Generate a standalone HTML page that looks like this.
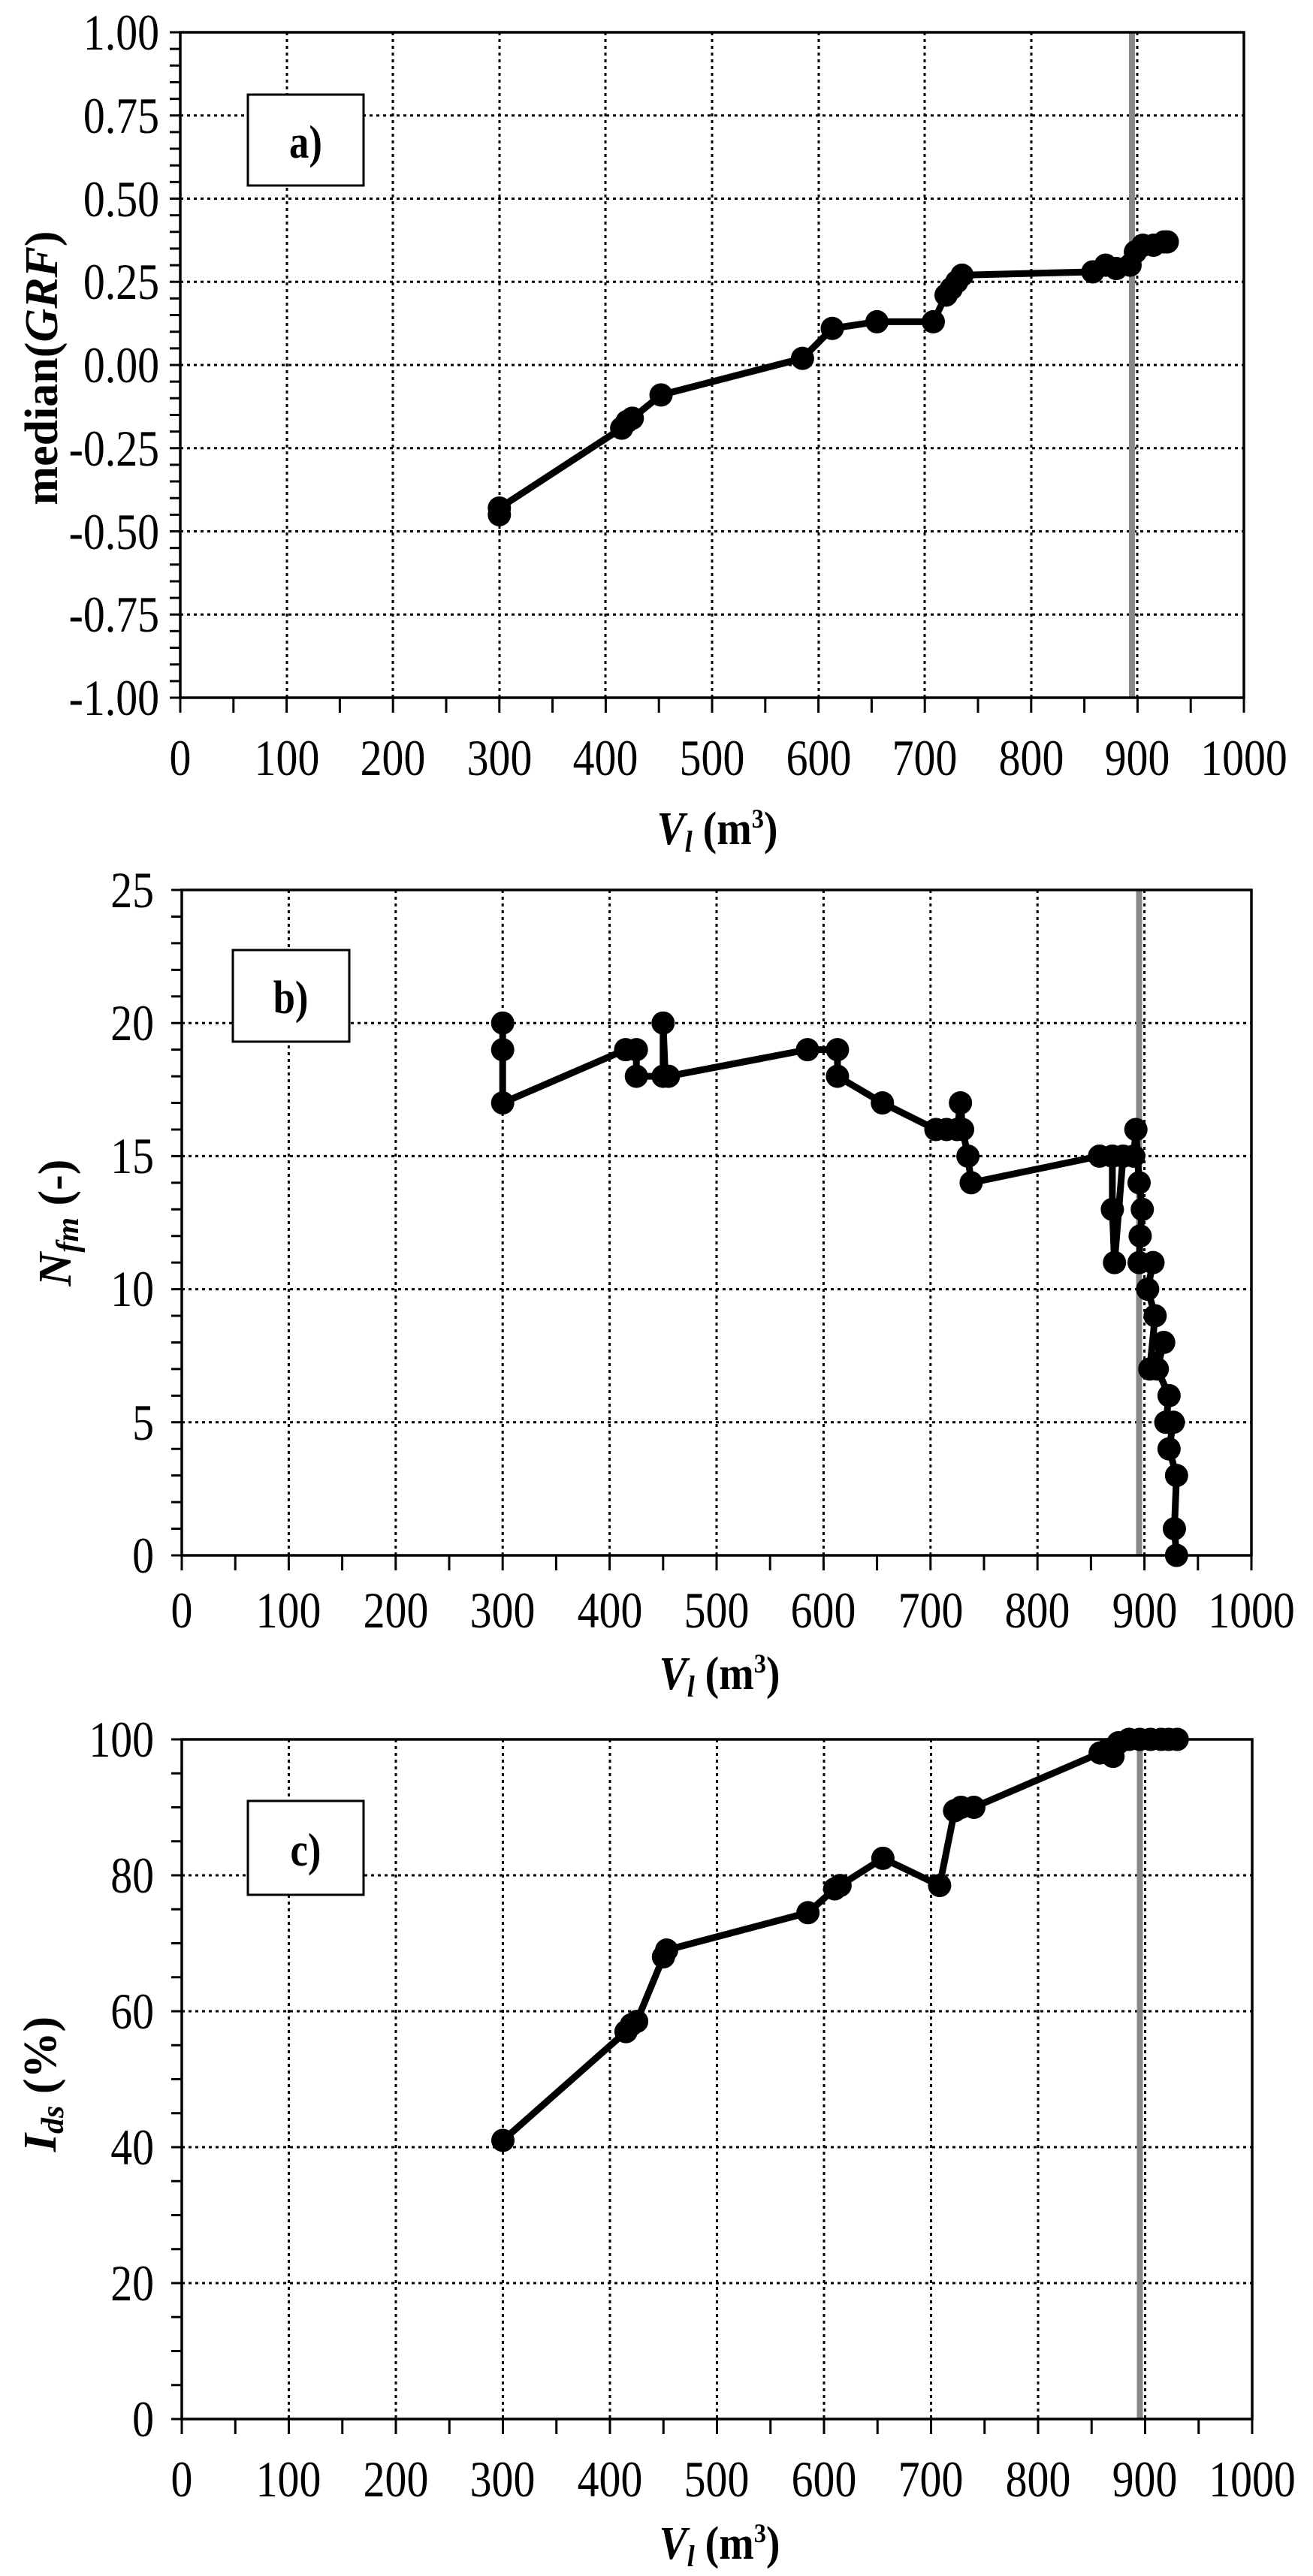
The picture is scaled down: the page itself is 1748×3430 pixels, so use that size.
<!DOCTYPE html>
<html><head><meta charset="utf-8"><style>
html,body{margin:0;padding:0;background:#fff;}
svg{display:block;}
text{font-family:"Liberation Serif",serif;fill:#000;}
.t{font-size:68px;}
.ti{font-size:62px;font-weight:bold;}
</style></head><body>
<svg width="1748" height="3430" viewBox="0 0 1748 3430" xmlns="http://www.w3.org/2000/svg">
<!-- ===== Plot a ===== -->
<g stroke="#000" stroke-width="3" stroke-dasharray="4 5" fill="none">
<path d="M382 43V929M523 43V929M665 43V929M806 43V929M948 43V929M1090 43V929M1231 43V929M1373 43V929M1514 43V929"/>
<path d="M240 153.75H1656M240 264.5H1656M240 375.25H1656M240 486H1656M240 596.75H1656M240 707.5H1656M240 818.25H1656"/>
</g>
<line x1="1507" y1="43" x2="1507" y2="929" stroke="#888" stroke-width="8"/>
<rect x="240" y="43" width="1416" height="886" fill="none" stroke="#000" stroke-width="3.5"/>
<line x1="233" y1="41.5" x2="233" y2="931" stroke="#000" stroke-width="14" stroke-dasharray="3 19.15"/>
<line x1="238.5" y1="939" x2="1660" y2="939" stroke="#000" stroke-width="20" stroke-dasharray="3 67.8"/>
<g transform="matrix(1.416 0 0 -443 240 486)" fill="none" stroke="#000" stroke-linejoin="round">
<path vector-effect="non-scaling-stroke" stroke-width="9" d="M300 -0.45L300 -0.43L415 -0.19L420 -0.17L425 -0.16L452 -0.09L585 0.02L613 0.11L655 0.13L708 0.13L720 0.21L725 0.23L730 0.25L735 0.27L858 0.28L870 0.3L880 0.29L893 0.3L898 0.34L905 0.36L915 0.36L925 0.37L928 0.37"/>
<path vector-effect="non-scaling-stroke" stroke-width="31" stroke-linecap="round" d="M300 -0.45l0 0M300 -0.43l0 0M415 -0.19l0 0M420 -0.17l0 0M425 -0.16l0 0M452 -0.09l0 0M585 0.02l0 0M613 0.11l0 0M655 0.13l0 0M708 0.13l0 0M720 0.21l0 0M725 0.23l0 0M730 0.25l0 0M735 0.27l0 0M858 0.28l0 0M870 0.3l0 0M880 0.29l0 0M893 0.3l0 0M898 0.34l0 0M905 0.36l0 0M915 0.36l0 0M925 0.37l0 0M928 0.37l0 0"/>
</g>
<rect x="330" y="126" width="154" height="121" fill="#fff" stroke="#000" stroke-width="3"/>
<text class="ti" transform="translate(407 210) scale(0.85 1)" text-anchor="middle" font-size="66">a)</text>
<g class="t" text-anchor="end">
<text transform="translate(212 66) scale(0.85 1)">1.00</text><text transform="translate(212 177) scale(0.85 1)">0.75</text><text transform="translate(212 288) scale(0.85 1)">0.50</text><text transform="translate(212 398) scale(0.85 1)">0.25</text><text transform="translate(212 509) scale(0.85 1)">0.00</text><text transform="translate(212 620) scale(0.85 1)">-0.25</text><text transform="translate(212 731) scale(0.85 1)">-0.50</text><text transform="translate(212 841) scale(0.85 1)">-0.75</text><text transform="translate(212 952) scale(0.85 1)">-1.00</text>
</g>
<g class="t" text-anchor="middle">
<text transform="translate(240 1032) scale(0.85 1)">0</text><text transform="translate(382 1032) scale(0.85 1)">100</text><text transform="translate(523 1032) scale(0.85 1)">200</text><text transform="translate(665 1032) scale(0.85 1)">300</text><text transform="translate(806 1032) scale(0.85 1)">400</text><text transform="translate(948 1032) scale(0.85 1)">500</text><text transform="translate(1090 1032) scale(0.85 1)">600</text><text transform="translate(1231 1032) scale(0.85 1)">700</text><text transform="translate(1373 1032) scale(0.85 1)">800</text><text transform="translate(1514 1032) scale(0.85 1)">900</text><text transform="translate(1656 1032) scale(0.85 1)">1000</text>
</g>
<text class="ti" transform="translate(955 1124) scale(0.9 1)" text-anchor="middle"><tspan font-style="italic">V</tspan><tspan font-style="italic" font-size="40" dy="10">l</tspan><tspan dy="-10"> (m</tspan><tspan font-size="36" dy="-22">3</tspan><tspan dy="22">)</tspan></text>
<text class="ti" transform="translate(76 490) rotate(-90)" text-anchor="middle" font-size="64">median(<tspan font-style="italic">GRF</tspan>)</text>

<!-- ===== Plot b ===== -->
<g stroke="#000" stroke-width="3" stroke-dasharray="4 5" fill="none">
<path d="M384.4 1185V2071M526.8 1185V2071M669.2 1185V2071M811.6 1185V2071M954 1185V2071M1096.4 1185V2071M1238.8 1185V2071M1381.2 1185V2071M1523.6 1185V2071"/>
<path d="M242 1362.2H1666M242 1539.4H1666M242 1716.6H1666M242 1893.8H1666"/>
</g>
<line x1="1516.5" y1="1185" x2="1516.5" y2="2071" stroke="#888" stroke-width="8"/>
<rect x="242" y="1185" width="1424" height="886" fill="none" stroke="#000" stroke-width="3.5"/>
<line x1="235" y1="1183.5" x2="235" y2="2073" stroke="#000" stroke-width="14" stroke-dasharray="3 32.44"/>
<line x1="240.5" y1="2081" x2="1670" y2="2081" stroke="#000" stroke-width="20" stroke-dasharray="3 68.2"/>
<g transform="matrix(1.424 0 0 -35.44 242 2071)" fill="none" stroke="#000" stroke-linejoin="round">
<path vector-effect="non-scaling-stroke" stroke-width="9" d="M300 20L300 19L300 17L415 19L425 19L425 18L450 18L450 20L452 18L455 18L585 19L613 19L613 18L655 17L705 16L715 16L725 16L728 17L730 16L735 15L738 14L858 15L870 15L870 13L872 11L880 15L890 15L892 16L895 14L898 13L896 12L895 11L908 11L903 10L910 9L905 7L918 8L912 7L923 6L920 5L927 5L923 4L930 3L928 1L930 0"/>
<path vector-effect="non-scaling-stroke" stroke-width="31" stroke-linecap="round" d="M300 20l0 0M300 19l0 0M300 17l0 0M415 19l0 0M425 19l0 0M425 18l0 0M450 18l0 0M450 20l0 0M455 18l0 0M585 19l0 0M613 19l0 0M613 18l0 0M655 17l0 0M705 16l0 0M715 16l0 0M725 16l0 0M728 17l0 0M730 16l0 0M735 15l0 0M738 14l0 0M858 15l0 0M870 15l0 0M870 13l0 0M872 11l0 0M880 15l0 0M890 15l0 0M892 16l0 0M895 14l0 0M898 13l0 0M896 12l0 0M895 11l0 0M908 11l0 0M903 10l0 0M910 9l0 0M905 7l0 0M918 8l0 0M912 7l0 0M923 6l0 0M920 5l0 0M927 5l0 0M923 4l0 0M930 3l0 0M928 1l0 0M930 0l0 0"/>
</g>
<rect x="310" y="1265" width="155" height="122" fill="#fff" stroke="#000" stroke-width="3"/>
<text class="ti" transform="translate(387 1349) scale(0.85 1)" text-anchor="middle" font-size="66">b)</text>
<g class="t" text-anchor="end">
<text transform="translate(205 1208) scale(0.85 1)">25</text><text transform="translate(205 1385) scale(0.85 1)">20</text><text transform="translate(205 1562) scale(0.85 1)">15</text><text transform="translate(205 1739) scale(0.85 1)">10</text><text transform="translate(205 1917) scale(0.85 1)">5</text><text transform="translate(205 2094) scale(0.85 1)">0</text>
</g>
<g class="t" text-anchor="middle">
<text transform="translate(242 2167) scale(0.85 1)">0</text><text transform="translate(384 2167) scale(0.85 1)">100</text><text transform="translate(527 2167) scale(0.85 1)">200</text><text transform="translate(669 2167) scale(0.85 1)">300</text><text transform="translate(812 2167) scale(0.85 1)">400</text><text transform="translate(954 2167) scale(0.85 1)">500</text><text transform="translate(1096 2167) scale(0.85 1)">600</text><text transform="translate(1239 2167) scale(0.85 1)">700</text><text transform="translate(1381 2167) scale(0.85 1)">800</text><text transform="translate(1524 2167) scale(0.85 1)">900</text><text transform="translate(1666 2167) scale(0.85 1)">1000</text>
</g>
<text class="ti" transform="translate(958 2249) scale(0.9 1)" text-anchor="middle"><tspan font-style="italic">V</tspan><tspan font-style="italic" font-size="40" dy="10">l</tspan><tspan dy="-10"> (m</tspan><tspan font-size="36" dy="-22">3</tspan><tspan dy="22">)</tspan></text>
<text class="ti" transform="translate(94 1628) rotate(-90)" text-anchor="middle" font-size="64"><tspan font-style="italic">N</tspan><tspan font-style="italic" font-size="42" dy="10">fm</tspan><tspan dy="-10"> (-)</tspan></text>

<!-- ===== Plot c ===== -->
<g stroke="#000" stroke-width="3" stroke-dasharray="4 5" fill="none">
<path d="M384.5 2316V3221M527 2316V3221M669.5 2316V3221M812 2316V3221M954.5 2316V3221M1097 2316V3221M1239.5 2316V3221M1382 2316V3221M1524.5 2316V3221"/>
<path d="M242 2497H1667M242 2678H1667M242 2859H1667M242 3040H1667"/>
</g>
<line x1="1517.5" y1="2316" x2="1517.5" y2="3221" stroke="#888" stroke-width="8"/>
<rect x="242" y="2316" width="1425" height="905" fill="none" stroke="#000" stroke-width="3.5"/>
<line x1="235" y1="2314.5" x2="235" y2="3223" stroke="#000" stroke-width="14" stroke-dasharray="3 42.25"/>
<line x1="240.5" y1="3231" x2="1671" y2="3231" stroke="#000" stroke-width="20" stroke-dasharray="3 68.25"/>
<g transform="matrix(1.425 0 0 -9.05 242 3221)" fill="none" stroke="#000" stroke-linejoin="round">
<path vector-effect="non-scaling-stroke" stroke-width="9" d="M300 41L415 57L420 58L425 58.5L450 68L453 69L585 74.5L610 78L615 78.5L655 82.5L708 78.5L722 89.5L728 90L740 90L858 98L865 98.5L870 97.5L875 99.5L890 100L930 100"/>
<path vector-effect="non-scaling-stroke" stroke-width="31" stroke-linecap="round" d="M300 41l0 0M415 57l0 0M420 58l0 0M425 58.5l0 0M450 68l0 0M453 69l0 0M585 74.5l0 0M610 78l0 0M615 78.5l0 0M655 82.5l0 0M708 78.5l0 0M722 89.5l0 0M728 90l0 0M740 90l0 0M858 98l0 0M865 98.5l0 0M870 97.5l0 0M875 99.5l0 0M885 100l0 0M895 100l0 0M905 100l0 0M915 100l0 0M922 100l0 0M930 100l0 0"/>
</g>
<rect x="330" y="2398" width="154" height="125" fill="#fff" stroke="#000" stroke-width="3"/>
<text class="ti" transform="translate(407 2484) scale(0.85 1)" text-anchor="middle" font-size="66">c)</text>
<g class="t" text-anchor="end">
<text transform="translate(205 2339) scale(0.85 1)">100</text><text transform="translate(205 2520) scale(0.85 1)">80</text><text transform="translate(205 2701) scale(0.85 1)">60</text><text transform="translate(205 2882) scale(0.85 1)">40</text><text transform="translate(205 3063) scale(0.85 1)">20</text><text transform="translate(205 3244) scale(0.85 1)">0</text>
</g>
<g class="t" text-anchor="middle">
<text transform="translate(242 3324) scale(0.85 1)">0</text><text transform="translate(384 3324) scale(0.85 1)">100</text><text transform="translate(527 3324) scale(0.85 1)">200</text><text transform="translate(669 3324) scale(0.85 1)">300</text><text transform="translate(812 3324) scale(0.85 1)">400</text><text transform="translate(954 3324) scale(0.85 1)">500</text><text transform="translate(1097 3324) scale(0.85 1)">600</text><text transform="translate(1239 3324) scale(0.85 1)">700</text><text transform="translate(1382 3324) scale(0.85 1)">800</text><text transform="translate(1524 3324) scale(0.85 1)">900</text><text transform="translate(1667 3324) scale(0.85 1)">1000</text>
</g>
<text class="ti" transform="translate(958 3407) scale(0.9 1)" text-anchor="middle"><tspan font-style="italic">V</tspan><tspan font-style="italic" font-size="40" dy="10">l</tspan><tspan dy="-10"> (m</tspan><tspan font-size="36" dy="-22">3</tspan><tspan dy="22">)</tspan></text>
<text class="ti" transform="translate(74 2775) rotate(-90)" text-anchor="middle" font-size="64"><tspan font-style="italic">I</tspan><tspan font-style="italic" font-size="42" dy="10">ds</tspan><tspan dy="-10"> (%)</tspan></text>
</svg>
</body></html>
